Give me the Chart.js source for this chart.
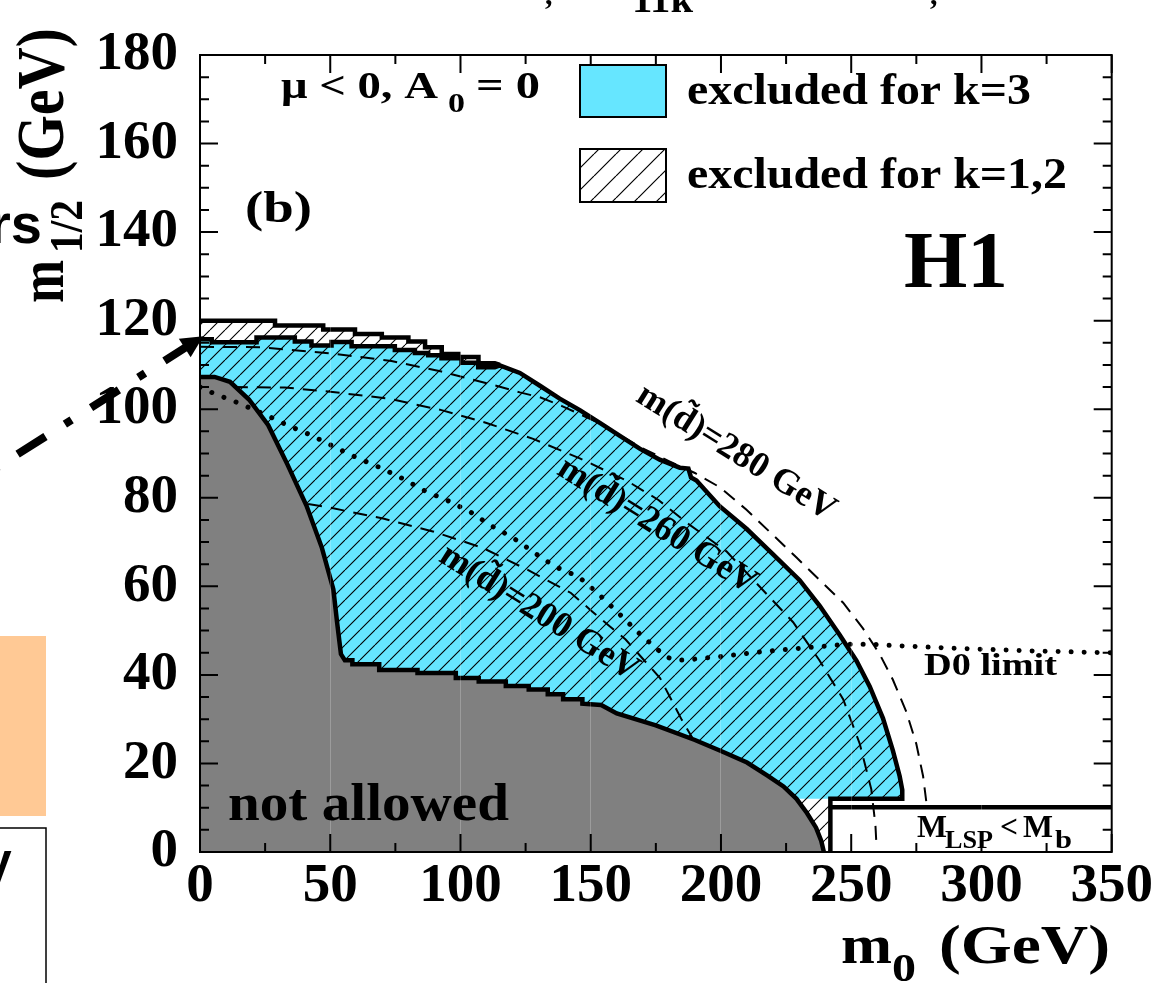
<!DOCTYPE html>
<html>
<head>
<meta charset="utf-8">
<script src="https://cdn.jsdelivr.net/npm/chart.js@4.4.1/dist/chart.umd.min.js"></script>
<style>
  html, body { margin: 0; padding: 0; background: #fff; }
  #wrap { width: 1169px; height: 983px; position: relative; overflow: hidden; }
</style>
</head>
<body>
<div id="wrap"><canvas id="c" width="1169" height="983"></canvas></div>
<script>
// ---------------- data ----------------
const xTickValues = [0, 50, 100, 150, 200, 250, 300, 350];
const xTickLabels = ['0', '50', '100', '150', '200', '250', '300', '350'];
const xMinorTicks = [25, 75, 125, 175, 225, 275, 325];
const yTickValues = [0, 20, 40, 60, 80, 100, 120, 140, 160, 180];
const yTickLabels = ['0', '20', '40', '60', '80', '100', '120', '140', '160', '180'];
const yMinorTicks = [5, 10, 15, 25, 30, 35, 45, 50, 55, 65, 70, 75, 85, 90, 95, 105, 110, 115, 125, 130, 135, 145, 150, 155, 165, 170, 175];

// "not allowed" region boundary (m0, m1/2)
const notAllowed = [[0,107.3],[5.6,107.3],[11.5,106.2],[18.8,102.2],[26.2,96.4],[33.5,87.6],[40.9,78.2],[46.8,68.7],[51.2,59.3],[52.6,52],[54.1,44.7],[55.6,43.3],[58.5,43.3],[58.5,42.4],[68.8,42.4],[68.8,41.1],[83.5,41.1],[83.5,40.4],[98.2,40.4],[98.2,39.3],[107,39.3],[107,38.5],[117.4,38.5],[117.4,37.5],[126.2,37.5],[126.2,36.7],[133.5,36.7],[133.5,35.6],[139.4,35.6],[139.4,34.5],[146.8,34.5],[146.8,33.5],[154,33.2],[160,31.3],[175,28.6],[190,25.3],[200,22.8],[210,20.2],[218,17.2],[224,14.8],[229,12],[233,8.8],[236.5,5.5],[238.5,2.5],[239.5,0]];

// excluded for k=3 (upper boundary)
const excludedK3 = [[0,115.8],[4.5,115.8],[4.5,115.1],[21.7,115.1],[21.7,116.2],[36.4,116.2],[36.4,115.3],[42.8,115.3],[42.8,114.4],[50.5,114.4],[50.5,115.2],[58.2,115.2],[58.2,114.2],[74.8,114.2],[74.8,113.4],[82.5,113.4],[82.5,112.7],[87.6,112.7],[87.6,112.2],[92.7,112.2],[92.7,111.5],[100.4,111.5],[100.4,110.5],[106.8,110.5],[106.8,109.5],[113.2,109.5],[115.1,109.9],[122.8,108.2],[130.5,105.3],[138.1,102.4],[145.8,99.8],[153.5,96.9],[161.2,94.0],[168.8,91.1],[176.5,88.6],[184.2,86.8],[187.5,86.6],[188.5,84.6],[190.6,83.9],[199.5,78.1],[209.8,73.0],[220,67.2],[230.2,61.4],[237.9,55.6],[245.6,49.0],[252,43.2],[257.1,37.4],[262.2,30.2],[266,22.9],[268.6,17.1],[269.6,14],[269.6,12.0]];
const excludedK3Closure = [[242,12.0],[242,0]];
const k3Floor = 12.0;

// excluded for k=1,2 : upper edge where it differs from k=3
const excludedK12Top = [[0,120],[28.8,120],[28.8,118.9],[47.3,118.9],[47.3,118],[59.5,118],[59.5,117],[69.8,117],[69.8,116.2],[80,116.2],[80,115.3],[86.4,115.3],[86.4,114],[92.8,114],[92.8,112.5],[99.2,112.5],[99.2,111.8],[106.9,111.8],[106.9,110.4],[113.2,110.4],[115.1,110.0]];

// M_LSP < M_b box (top edge)
const lspBoxTop = [[242,10.1],[350,10.1]];
const lspBoxMask = [[242,12.0],[350,12.0]];

// squark mass contours
const mSquark280 = [[0,114.1],[23.7,114.0],[51.8,112.5],[73.5,110.9],[92.7,108.5],[111.9,105.6],[122.8,103.8],[130.5,102.7],[139.4,100.6],[153.5,96.8],[168.8,91.5],[180,88.3],[190,85.6],[199.5,82.4],[209.8,77.3],[218.7,72.3],[229,66.5],[237.9,61.4],[246.9,56.3],[254.5,50.5],[260.9,44.7],[266,38.9],[271.2,31.6],[275,24.4],[277.6,17.1],[278.9,11.0]];
const mSquark260 = [[13,105],[32.6,104.9],[49.2,104.0],[72.3,102.4],[92.7,99.8],[110,96.9],[127.9,93.3],[145.8,88.9],[163.7,83.9],[176,79.5],[186.8,74.4],[202.1,67.9],[214.9,59.9],[227.7,51.9],[237.9,43.2],[246.9,34.5],[253.3,24.4],[257.7,14.2],[259.3,6],[259.7,1.5]];
const mSquark200 = [[41.5,78.6],[49.7,77.8],[70.3,75.3],[89.4,72.4],[108.5,68.7],[126.2,63.6],[142.4,58.5],[150.2,54.5],[156.8,51.2],[163.4,48],[169.3,44.1],[176.6,39.3],[180.5,34.9],[184.9,29.9],[189,25.8]];

// D0 limit (dotted)
const d0Limit = [[0,105],[6.3,103.3],[11.5,102.2],[15.9,101.1],[24.7,98.9],[33.5,96.4],[42.4,94.2],[51.2,91.6],[60,89.1],[68.8,86.9],[77.6,84.4],[86.5,81.5],[95.3,79.3],[104.1,76.7],[111.5,73.8],[120.3,70.9],[129.1,67.3],[136.5,64.4],[145.3,62.2],[152.6,58.5],[159,54.9],[169.3,49],[179,44],[184,43.3],[189,43.5],[203.5,44.4],[218.6,45.4],[233.8,46.2],[248.2,46.9],[258.3,46.9],[267.3,46.6],[290,46.0],[320,45.4],[350,45.0]];

// arrow coming from the neighbouring panel (tail, tip) in (m0, m1/2)
const arrowTail = [-98.2, 79.3];
const arrowTip = [1.27, 116.5];

// ---------------- helpers ----------------
const SERIF = '"Liberation Serif", "Times New Roman", serif';
const SANS = '"Liberation Sans", Arial, sans-serif';
const CYAN = '#66E6FF';
const GRAY = '#808080';
const pts = a => a.map(p => ({ x: p[0], y: p[1] }));

const ctx = document.getElementById('c').getContext('2d');

function hatchPattern(step, lw) {
  const c = document.createElement('canvas');
  c.width = step; c.height = step;
  const g = c.getContext('2d');
  g.strokeStyle = '#000'; g.lineWidth = lw;
  g.beginPath();
  for (let k = -1; k <= 1; k++) { g.moveTo(k * step, step); g.lineTo(k * step + step, 0); }
  g.stroke();
  return ctx.createPattern(c, 'repeat');
}
const hatchMain = hatchPattern(15, 1.1);
const hatchLegend = hatchPattern(22, 1.2);

function T(c, s, x, y, size, o = {}) {
  c.save();
  c.font = `${o.weight || 'bold'} ${size}px ${o.family || SERIF}`;
  c.fillStyle = o.color || '#000';
  c.textBaseline = o.base || 'alphabetic';
  c.textAlign = o.align || 'left';
  const w = c.measureText(s).width;
  const sx = o.w ? o.w / w : (o.sx || 1);
  c.translate(x, y);
  if (o.rot) c.rotate(o.rot);
  c.scale(sx, o.sy || 1);
  c.fillText(s, 0, 0);
  c.restore();
}

const hatchData = excludedK12Top.concat(excludedK3.filter(p => p[0] > 115.1));

const decor = {
  id: 'decor',
  afterDraw(chart) {
    const c = chart.ctx, a = chart.chartArea, xs = chart.scales.x, ys = chart.scales.y;
    c.save();
    // frame
    c.strokeStyle = '#000'; c.lineWidth = 2;
    c.strokeRect(a.left, a.top, a.right - a.left, a.bottom - a.top);
    // inward ticks on all four sides
    c.beginPath();
    const xt = (v, L) => { const p = xs.getPixelForValue(v); c.moveTo(p, a.bottom); c.lineTo(p, a.bottom - L); c.moveTo(p, a.top); c.lineTo(p, a.top + L); };
    const yt = (v, L) => { const p = ys.getPixelForValue(v); c.moveTo(a.left, p); c.lineTo(a.left + L, p); c.moveTo(a.right, p); c.lineTo(a.right - L, p); };
    xTickValues.forEach(v => xt(v, 18)); xMinorTicks.forEach(v => xt(v, 9));
    yTickValues.forEach(v => yt(v, 18)); yMinorTicks.forEach(v => yt(v, 9));
    c.stroke();

    // arrow from neighbouring panel
    const tx = xs.getPixelForValue(arrowTail[0]), ty = ys.getPixelForValue(arrowTail[1]);
    const hx = xs.getPixelForValue(arrowTip[0]), hy = ys.getPixelForValue(arrowTip[1]);
    const L = Math.hypot(hx - tx, hy - ty), ux = (hx - tx) / L, uy = (hy - ty) / L;
    const bx = hx - ux * 22, by = hy - uy * 22;
    c.save();
    c.strokeStyle = '#000'; c.lineWidth = 8; c.setLineDash([33, 23, 8, 23]);
    c.beginPath(); c.moveTo(tx, ty); c.lineTo(bx + ux * 2, by + uy * 2); c.stroke();
    c.setLineDash([]);
    c.beginPath(); c.moveTo(hx, hy);
    c.lineTo(bx - uy * 11, by + ux * 11); c.lineTo(bx + uy * 11, by - ux * 11); c.closePath();
    c.fillStyle = '#000'; c.fill();
    c.restore();

    // legend
    c.fillStyle = CYAN; c.fillRect(580, 65, 86, 52);
    c.fillStyle = hatchLegend; c.fillRect(580, 149, 86, 53);
    c.strokeStyle = '#000'; c.lineWidth = 2;
    c.strokeRect(580, 65, 86, 52); c.strokeRect(580, 149, 86, 53);
    T(c, 'excluded for k=3', 687, 104, 44, { w: 344 });
    T(c, 'excluded for k=1,2', 687, 188, 44, { w: 380 });

    // annotations
    T(c, '\u03bc < 0, A', 281, 98, 38, { w: 157 });
    T(c, '0', 448, 112, 28, { w: 17 });
    T(c, '= 0', 476, 98, 38, { w: 64 });
    T(c, '(b)', 245, 222, 44, { w: 67 });
    T(c, 'H1', 904, 287, 81, { w: 104 });
    T(c, 'D0 limit', 924, 675, 31, { w: 133 });
    T(c, 'not allowed', 228, 820, 52, { w: 281 });
    T(c, 'M', 917, 837, 32, { w: 30 });
    T(c, 'LSP', 945, 848, 26, { w: 48 });
    T(c, '<', 1000, 837, 32, { w: 18 });
    T(c, 'M', 1023, 837, 32, { w: 30 });
    T(c, 'b', 1055, 848, 26, { w: 17 });
    const ang = 32 * Math.PI / 180;
    T(c, 'm(d\u0303)=280 GeV', 736, 453, 36, { align: 'center', base: 'middle', rot: ang });
    T(c, 'm(d\u0303)=260 GeV', 657, 526, 36, { align: 'center', base: 'middle', rot: ang });
    T(c, 'm(d\u0303)=200 GeV', 539, 613, 36, { align: 'center', base: 'middle', rot: ang });

    // axis titles
    T(c, 'm', 841, 963, 55, { w: 51 });
    T(c, '0', 892, 981, 40, { w: 24 });
    T(c, '(GeV)', 939, 963, 55, { w: 171 });
    const up = -Math.PI / 2;
    T(c, 'm', 63, 303, 52, { rot: up, w: 43, sy: 1.2 });
    T(c, '1/2', 82, 253, 38, { rot: up, w: 53, sy: 1.2 });
    T(c, '(GeV)', 63, 180, 56, { rot: up, w: 152, sy: 1.2 });

    // fragments of the neighbouring panels
    c.fillStyle = '#FFC995'; c.fillRect(0, 636, 46, 180);
    c.strokeStyle = '#000'; c.lineWidth = 1.5; c.strokeRect(-2, 828, 48, 170);
    T(c, 'V', -19, 883, 46, { family: SANS });
    T(c, 'rs', 42, 243, 56, { family: SANS, align: 'right' });
    T(c, ',', 545, 4, 30);
    T(c, '11k', 632, 12, 36, { w: 61 });
    T(c, ',', 930, 4, 30);
    c.restore();
  }
};

const solid = (data, order, w) => ({ data: pts(data), showLine: true, fill: false, borderColor: '#000', borderWidth: w, pointRadius: 0, order, borderJoinStyle: 'miter' });

new Chart(ctx, {
  type: 'scatter',
  data: {
    datasets: [
      { label: 'excluded k=3', data: pts(excludedK3), showLine: true, borderWidth: 0, borderColor: 'rgba(0,0,0,0)', backgroundColor: CYAN, fill: { value: k3Floor }, pointRadius: 0, order: 20 },
      { label: 'excluded k=1,2', data: pts(hatchData), showLine: true, borderWidth: 0, borderColor: 'rgba(0,0,0,0)', backgroundColor: hatchMain, fill: 'origin', pointRadius: 0, order: 19 },
      { label: 'not allowed', data: pts(notAllowed), showLine: true, borderWidth: 0, borderColor: 'rgba(0,0,0,0)', backgroundColor: GRAY, fill: 'origin', pointRadius: 0, order: 18 },
      { label: 'LSP box', data: pts(lspBoxMask), showLine: true, borderWidth: 0, borderColor: 'rgba(0,0,0,0)', backgroundColor: '#fff', fill: 'origin', pointRadius: 0, order: 17 },
      { label: 'm280', data: pts(mSquark280), showLine: true, fill: false, borderColor: '#000', borderWidth: 2, borderDash: [14, 9], pointRadius: 0, order: 16 },
      { label: 'm260', data: pts(mSquark260), showLine: true, fill: false, borderColor: '#000', borderWidth: 2, borderDash: [14, 9], pointRadius: 0, order: 15 },
      { label: 'm200', data: pts(mSquark200), showLine: true, fill: false, borderColor: '#000', borderWidth: 2, borderDash: [14, 9], pointRadius: 0, order: 14 },
      { label: 'D0', data: pts(d0Limit), showLine: true, fill: false, borderColor: '#000', borderWidth: 5, borderDash: [0.01, 13], borderCapStyle: 'round', pointRadius: 0, order: 13 },
      solid(notAllowed, 5, 4.5),
      solid(excludedK12Top, 4, 4.5),
      solid(excludedK3.concat(excludedK3Closure), 3, 4.5),
      solid(lspBoxTop, 2, 4.5)
    ]
  },
  options: {
    responsive: false,
    animation: false,
    devicePixelRatio: 1,
    events: [],
    layout: { padding: { top: 25.5, right: 57.3, left: 0, bottom: 0 } },
    plugins: { legend: { display: false }, tooltip: { enabled: false } },
    elements: { line: { tension: 0 }, point: { radius: 0 } },
    scales: {
      x: {
        type: 'linear', min: 0, max: 350,
        afterFit: s => { s.height = 131; },
        ticks: { stepSize: 50, autoSkip: false, maxRotation: 0, padding: 2, color: '#000',
                 font: { family: SERIF, size: 55, weight: 'bold' },
                 callback: (v, i) => xTickLabels[i] },
        grid: { display: true, drawTicks: false, z: 1, lineWidth: 1,
                color: c => (c.tick && c.tick.value > 0 && c.tick.value < 350) ? 'rgba(255,255,255,0.22)' : 'rgba(0,0,0,0)' },
        border: { display: false }
      },
      y: {
        type: 'linear', min: 0, max: 180,
        afterFit: s => { s.width = 200; },
        ticks: { stepSize: 20, autoSkip: false, padding: 22, color: '#000',
                 font: { family: SERIF, size: 55, weight: 'bold' },
                 callback: (v, i) => yTickLabels[i] },
        grid: { display: false, drawTicks: false },
        border: { display: false }
      }
    }
  },
  plugins: [decor]
});
</script>
</body>
</html>
